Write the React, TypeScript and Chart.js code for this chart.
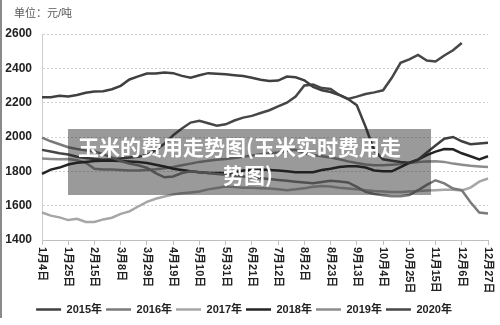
import React, { useEffect, useRef } from 'react';
import { Chart, registerables } from 'chart.js';

Chart.register(...registerables);

const categories = [
  '1月4日', '1月11日', '1月18日', '1月25日', '2月1日', '2月8日', '2月15日', '2月22日',
  '3月1日', '3月8日', '3月15日', '3月22日', '3月29日', '4月5日', '4月12日', '4月19日',
  '4月26日', '5月3日', '5月10日', '5月17日', '5月24日', '5月31日', '6月7日', '6月14日',
  '6月21日', '6月28日', '7月5日', '7月12日', '7月19日', '7月26日', '8月2日', '8月9日',
  '8月16日', '8月23日', '8月30日', '9月6日', '9月13日', '9月20日', '9月27日', '10月4日',
  '10月11日', '10月18日', '10月25日', '11月1日', '11月8日', '11月15日', '11月22日', '11月29日',
  '12月6日', '12月13日', '12月20日', '12月27日',
];
const tickStep = 3;

const s2015 = [
  2231, 2231, 2240, 2236, 2245, 2258, 2265, 2266, 2278, 2298,
  2335, 2353, 2370, 2370, 2376, 2372, 2356, 2345, 2360, 2372,
  2368, 2365, 2360, 2355, 2345, 2333, 2326, 2329, 2352, 2348,
  2330, 2292, 2272, 2262, 2245, 2221, 2185, 2060, 1920, 1870,
  1862, 1855, 1850, 1868, 1910, 1950, 1990, 2000, 1975, 1958,
  1962, 1966,
];
const s2016 = [
  1996, 1975, 1958, 1940, 1930, 1922, 1915, 1900, 1880, 1860,
  1845, 1835, 1820, 1790, 1765, 1770, 1790, 1800, 1795, 1790,
  1785, 1780, 1775, 1770, 1765, 1760, 1755, 1750, 1745, 1740,
  1735, 1730, 1738, 1745, 1741, 1735, 1710, 1680, 1668, 1660,
  1655, 1655, 1662, 1690, 1721, 1748, 1730, 1700, 1690, 1620,
  1560, 1555,
];
const s2017 = [
  1560, 1542, 1532, 1516, 1524, 1505, 1505, 1520, 1530, 1552,
  1567, 1595, 1622, 1640, 1653, 1665, 1672, 1677, 1683, 1695,
  1703, 1712, 1708, 1705, 1705, 1702, 1700, 1695, 1690, 1695,
  1702, 1710, 1715, 1712, 1705, 1700, 1695, 1690, 1685, 1682,
  1680, 1680, 1682, 1685, 1688, 1690, 1692, 1692, 1688, 1705,
  1740, 1758,
];
const s2018 = [
  1785, 1810, 1822, 1840, 1850, 1855, 1860, 1862, 1862, 1860,
  1858, 1855, 1848, 1838, 1828, 1815, 1808, 1800, 1795, 1790,
  1790, 1790, 1795, 1805, 1808, 1810, 1808, 1805, 1800, 1795,
  1794, 1795, 1808, 1815, 1825, 1829, 1829, 1822, 1805, 1800,
  1800, 1825, 1849, 1868, 1895, 1915, 1930, 1928, 1905, 1888,
  1870, 1888,
];
const s2019 = [
  1875, 1872, 1870, 1872, 1865, 1850, 1815, 1810, 1810, 1808,
  1805, 1805, 1808, 1812, 1818, 1825, 1835, 1845, 1855, 1862,
  1868, 1872, 1878, 1885, 1892, 1900, 1905, 1910, 1920, 1925,
  1905, 1895, 1888, 1880, 1870, 1858, 1848, 1840, 1835, 1835,
  1838, 1842, 1848, 1855, 1858, 1859, 1855, 1845, 1839, 1832,
  1828, 1825,
];
const s2020 = [
  1925, 1915, 1905, 1898, 1885, 1878, 1872, 1868, 1870, 1875,
  1880, 1885, 1895, 1925, 1960, 2010, 2050, 2084, 2094, 2080,
  2066, 2074, 2096, 2113, 2123, 2140, 2156, 2178, 2200, 2236,
  2300, 2305, 2285, 2280, 2245, 2222, 2235, 2250, 2260, 2272,
  2345, 2432, 2452, 2478, 2445, 2440, 2475, 2505, 2548, null,
  null, null,
];

const seriesNames = ['2015年', '2016年', '2017年', '2018年', '2019年', '2020年'];
const seriesData = [s2015, s2016, s2017, s2018, s2019, s2020];
const seriesColors = ['#404040', '#7a7a7a', '#a6a6a6', '#242424', '#8c8c8c', '#474747'];

const yMin = 1400;
const yMax = 2600;
const yStep = 200;

const FONT = '"Liberation Sans", "Noto Sans CJK SC", sans-serif';

export default function App() {
  const ref = useRef<HTMLCanvasElement>(null);

  useEffect(() => {
    if (!ref.current) return;
    const rotatedLabels = {
      id: 'rotatedLabels',
      afterDraw(chart: any) {
        const xs = chart.scales.x;
        const ctx = chart.ctx;
        ctx.save();
        ctx.font = `bold 11px ${FONT}`;
        ctx.fillStyle = '#222';
        ctx.textAlign = 'left';
        ctx.textBaseline = 'middle';
        categories.forEach((lab, i) => {
          if (i % tickStep !== 0) return;
          const px = xs.getPixelForValue(i);
          ctx.save();
          ctx.translate(px, xs.top + 7);
          ctx.rotate(Math.PI / 2);
          ctx.fillText(lab, 0, 0);
          ctx.restore();
        });
        ctx.restore();
      },
    };

    const chart = new Chart(ref.current, {
      type: 'line',
      data: {
        labels: categories,
        datasets: seriesNames.map((name, k) => ({
          label: name,
          data: seriesData[k],
          borderColor: seriesColors[k],
          backgroundColor: seriesColors[k],
          borderWidth: 2.5,
          pointRadius: 0,
          tension: 0,
          spanGaps: false,
        })),
      },
      options: {
        animation: false,
        responsive: false,
        layout: { padding: { top: 34, right: 12, left: 0, bottom: 0 } },
        plugins: {
          tooltip: { enabled: false },
          legend: {
            position: 'bottom',
            labels: {
              usePointStyle: true,
              pointStyle: 'line',
              pointStyleWidth: 25,
              font: { size: 11, weight: 'bold', family: FONT },
              color: '#222',
              padding: 4,
            },
          },
        },
        scales: {
          x: {
            grid: {
              drawOnChartArea: false,
              drawTicks: true,
              tickLength: 5,
              color: (c: any) => (c.index % tickStep === 0 ? '#bfbfbf' : 'rgba(0,0,0,0)'),
            },
            border: { color: '#bfbfbf' },
            ticks: { display: false, autoSkip: false },
            afterFit: (s: any) => { s.height = 60; },
          },
          y: {
            min: yMin,
            max: yMax,
            afterFit: (s: any) => { s.width = 42; },
            ticks: {
              stepSize: yStep,
              font: { size: 12, weight: 'bold', family: FONT },
              color: '#222',
              padding: 10,
              callback: (v: any) => String(v),
            },
            grid: { drawTicks: false, color: '#cfcfcf', lineWidth: 1 },
            border: { color: '#cfcfcf', dash: [2, 2] },
          },
        },
      },
      plugins: [rotatedLabels],
    } as any);
    return () => chart.destroy();
  }, []);

  return (
    <div style={{ position: 'fixed', left: 0, top: 0, width: 500, height: 325, background: '#fff', overflow: 'hidden' }}>
      <canvas ref={ref} width={500} height={325} style={{ position: 'absolute', left: 0, top: 0 }} />
      <div style={{ position: 'absolute', left: 0, top: 0, width: 2, height: 318, background: '#8a8a8a' }} />
      <div style={{ position: 'absolute', left: 14, top: 5, fontSize: 11, lineHeight: '16px', color: '#595959', fontFamily: FONT }}>
        单位：元/吨
      </div>
      <div style={{ position: 'absolute', left: 68, top: 129, width: 363, height: 66, background: 'rgba(30,30,30,0.45)' }} />
      <div style={{ position: 'absolute', left: 78, top: 132, fontSize: 21, lineHeight: '28px', fontWeight: 700, color: '#fff', fontFamily: '"Noto Sans CJK SC", sans-serif', whiteSpace: 'nowrap' }}>
        玉米的费用走势图(玉米实时费用走
      </div>
      <div style={{ position: 'absolute', left: 223, top: 160, fontSize: 21, lineHeight: '28px', fontWeight: 700, color: '#fff', fontFamily: '"Noto Sans CJK SC", sans-serif', whiteSpace: 'nowrap' }}>
        势图)
      </div>
    </div>
  );
}
